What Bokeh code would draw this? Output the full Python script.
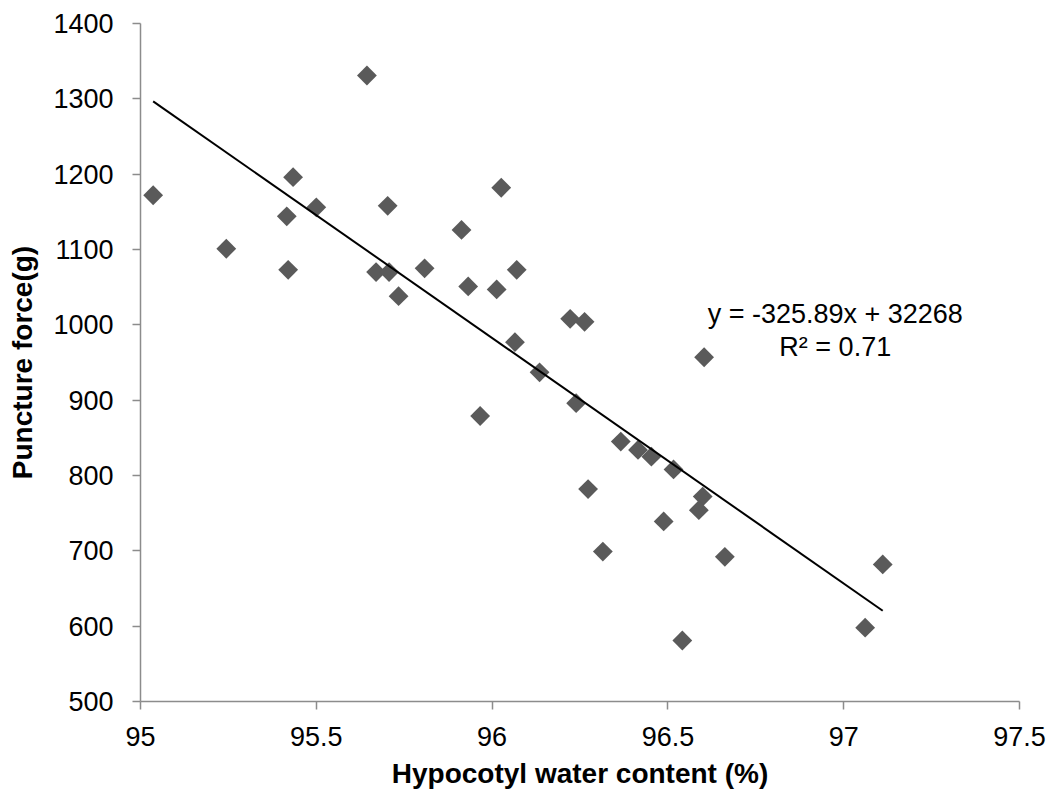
import math
from bokeh.plotting import figure
from bokeh.models import Range1d, FixedTicker, ColumnDataSource, Label
from bokeh.embed import file_html
from bokeh.resources import INLINE

# Data
water_content = [95.036, 95.244, 95.416, 95.434, 95.420, 95.500, 95.644, 95.703, 95.670, 95.707,
                 95.808, 95.734, 96.026, 95.913, 95.932, 96.013, 96.070, 96.222, 96.263, 96.065,
                 96.135, 95.966, 96.239, 96.603, 96.366, 96.415, 96.453, 96.516, 96.273, 96.599,
                 96.588, 96.488, 96.315, 96.662, 97.111, 97.061, 96.541]
puncture_force = [1172, 1101, 1144, 1196, 1073, 1156, 1331, 1158, 1070, 1070,
                  1075, 1038, 1182, 1126, 1051, 1047, 1073, 1008, 1004, 977,
                  937, 879, 896, 957, 845, 834, 825, 808, 782, 772,
                  754, 739, 699, 692, 682, 598, 581]

slope = -325.89
intercept = 32268
r_squared = 0.71

x_ticks = [95, 95.5, 96, 96.5, 97, 97.5]
x_tick_labels = ["95", "95.5", "96", "96.5", "97", "97.5"]
y_ticks = [500, 600, 700, 800, 900, 1000, 1100, 1200, 1300, 1400]
y_tick_labels = [str(v) for v in y_ticks]

FONT = "Liberation Sans"

p = figure(width=1052, height=796, output_backend="svg", toolbar_location=None,
           x_range=Range1d(95, 97.5), y_range=Range1d(500, 1400),
           min_border_left=140, min_border_right=33, min_border_top=23, min_border_bottom=95)
p.outline_line_color = None
p.background_fill_color = "white"
p.border_fill_color = "white"
p.xgrid.visible = False
p.ygrid.visible = False

for ax, ticks, labels in ((p.xaxis[0], x_ticks, x_tick_labels), (p.yaxis[0], y_ticks, y_tick_labels)):
    ax.ticker = FixedTicker(ticks=ticks)
    ax.major_label_overrides = {t: l for t, l in zip(ticks, labels)}
    ax.axis_line_color = "#8c8c8c"
    ax.axis_line_width = 1.5
    ax.major_tick_line_color = "#8c8c8c"
    ax.major_tick_line_width = 1.5
    ax.major_tick_out = 8
    ax.major_tick_in = 0
    ax.minor_tick_out = 0
    ax.minor_tick_in = 0
    ax.major_label_text_font = FONT
    ax.major_label_text_font_size = "27px"
    ax.major_label_text_color = "black"
    ax.axis_label_text_font = FONT
    ax.axis_label_text_font_size = "28px"
    ax.axis_label_text_font_style = "bold"
    ax.axis_label_text_color = "black"

p.xaxis.axis_label = "Hypocotyl water content (%)"
p.yaxis.axis_label = "Puncture force(g)"
p.xaxis.major_label_standoff = 17
p.xaxis.axis_label_standoff = 9
p.yaxis.major_label_standoff = 19
p.yaxis.axis_label_standoff = 12

src = ColumnDataSource(dict(x=water_content, y=puncture_force))
p.scatter("x", "y", source=src, marker="square", size=14, angle=math.pi / 4,
          fill_color="#5a5a5a", line_color=None)

x0, x1 = min(water_content), max(water_content)
p.line([x0, x1], [slope * x0 + intercept, slope * x1 + intercept], line_color="black", line_width=2)

eq_x = 96.976
p.add_layout(Label(x=eq_x, y=1014, text=f"y = {slope}x + {intercept}", text_align="center",
                   text_baseline="alphabetic", text_font=FONT, text_font_size="27px", text_color="black"))
p.add_layout(Label(x=eq_x, y=970, text=f"R\u00b2 = {r_squared}", text_align="center",
                   text_baseline="alphabetic", text_font=FONT, text_font_size="27px", text_color="black"))

open("out.html", "w").write(file_html(p, INLINE))
